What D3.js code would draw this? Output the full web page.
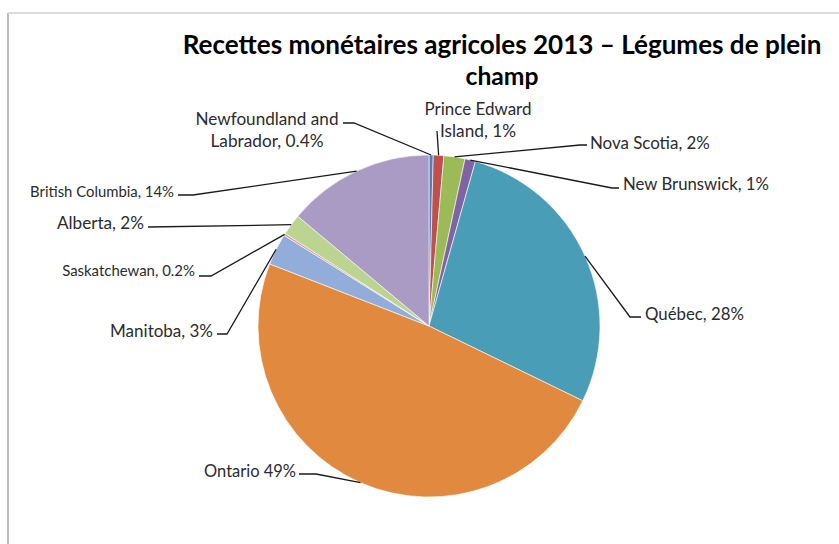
<!DOCTYPE html>
<html>
<head>
<meta charset="utf-8">
<script src="https://cdn.jsdelivr.net/npm/d3@7/dist/d3.min.js"></script>
<style>
  html, body { margin: 0; padding: 0; background: #fff; }
  svg { display: block; }
  text { font-family: Lato, "Open Sans", sans-serif; }
</style>
</head>
<body>
<svg id="chart" width="839" height="544"></svg>
<script>
// Farm cash receipts 2013, field vegetables, share by province (%)
const provinces = ["Newfoundland and Labrador", "Prince Edward Island", "Nova Scotia",
  "New Brunswick", "Québec", "Ontario", "Manitoba", "Saskatchewan", "Alberta", "British Columbia"];
const shares = [0.4, 1, 2, 1, 28, 49, 3, 0.2, 2, 14];
// Label wording (line breaks marked with \n) and the separator before the value
const labelNames = ["Newfoundland and\nLabrador", "Prince Edward\nIsland", "Nova Scotia",
  "New Brunswick", "Québec", "Ontario", "Manitoba", "Saskatchewan", "Alberta", "British Columbia"];
const labelSeps = [", ", ", ", ", ", ", ", ", ", " ", ", ", ", ", ", ", ", "];
const titleLines = ["Recettes monétaires agricoles 2013 – Légumes de plein", "champ"];

const colors = ["#4F81BD", "#C0504D", "#9BBB59", "#8064A2", "#4A9DB6",
  "#E0893F", "#93ADDA", "#D99694", "#BBD492", "#A99BC3"];

// Label placement: text anchor point, line spacing, target widths per line,
// and the leader line's start point and elbow near the text
const labelLayout = [
  { x: 267, y: 118, anchor: "middle", dy: 22, widths: [143, 113], start: [343, 123], elbow: [354, 123] },
  { x: 478, y: 108, anchor: "middle", dy: 22, widths: [107, 76], start: [437, 131], elbow: [437, 131] },
  { x: 590, y: 142, anchor: "start", widths: [120], start: [587, 145], elbow: [580, 145] },
  { x: 623, y: 183, anchor: "start", widths: [146], start: [619, 188], elbow: [612, 188] },
  { x: 645, y: 313, anchor: "start", widths: [99], start: [641, 317], elbow: [630, 317] },
  { x: 296, y: 471, anchor: "end", widths: [92], start: [299, 474], elbow: [316, 474] },
  { x: 213, y: 330, anchor: "end", widths: [103], start: [217, 334], elbow: [227, 334] },
  { x: 195, y: 270, anchor: "end", widths: [133], start: [199, 276], elbow: [211, 276] },
  { x: 144, y: 222, anchor: "end", widths: [87], start: [148, 227], elbow: [148, 227] },
  { x: 174, y: 191, anchor: "end", widths: [144], start: [178, 195], elbow: [193, 195] }
];

const svg = d3.select("#chart");

// Chart frame: left and top edges
svg.append("line").attr("x1", 8).attr("y1", 13).attr("x2", 8).attr("y2", 544)
  .attr("stroke", "#bdbdbd").attr("stroke-width", 2);
svg.append("line").attr("x1", 8).attr("y1", 13).attr("x2", 839).attr("y2", 13)
  .attr("stroke", "#dadada").attr("stroke-width", 2);

// Scale a text element's font size so that it spans the given width
function fitWidth(node, target) {
  const len = node.getComputedTextLength();
  const fs = parseFloat(node.getAttribute("font-size"));
  if (len > 0) node.setAttribute("font-size", (fs * target / len).toFixed(2));
}

// Title
const titleWidths = [639, 73];
titleLines.forEach((t, i) => {
  const el = svg.append("text")
    .attr("x", 502).attr("y", 44 + i * 31)
    .attr("text-anchor", "middle").attr("dominant-baseline", "central")
    .attr("font-size", 20).attr("font-weight", "bold").attr("fill", "#000")
    .text(t);
  fitWidth(el.node(), titleWidths[i]);
});

// Pie
const cx = 429, cy = 326, radius = 171;
const pie = d3.pie().sort(null).value(d => d);
const arcs = pie(shares);
const arc = d3.arc().innerRadius(0).outerRadius(radius);
const edge = d3.arc().innerRadius(radius).outerRadius(radius);

const g = svg.append("g").attr("transform", `translate(${cx},${cy})`);
g.selectAll("path.slice").data(arcs).join("path")
  .attr("class", "slice")
  .attr("d", arc)
  .attr("fill", (d, i) => colors[i])
  .attr("stroke", "#ffffff").attr("stroke-width", 0.6);

// Leader lines from the label to the slice edge at its mid-angle
const leader = d3.line();
svg.selectAll("path.leader").data(arcs).join("path")
  .attr("class", "leader")
  .attr("fill", "none").attr("stroke", "#1a1a1a").attr("stroke-width", 1.3)
  .attr("d", (d, i) => {
    const L = labelLayout[i];
    const [ex, ey] = edge.centroid(d);
    return leader([L.start, L.elbow, [cx + ex, cy + ey]]);
  });

// Data labels
const fmt = d3.format("~g");
arcs.forEach((d, i) => {
  const L = labelLayout[i];
  const full = labelNames[i] + labelSeps[i] + fmt(shares[i]) + "%";
  full.split("\n").forEach((line, j) => {
    const el = svg.append("text")
      .attr("x", L.x).attr("y", L.y + j * (L.dy || 0))
      .attr("text-anchor", L.anchor).attr("dominant-baseline", "central")
      .attr("font-size", 13).attr("fill", "#2b2b2b")
      .text(line);
    fitWidth(el.node(), L.widths[j]);
  });
});
</script>
</body>
</html>
